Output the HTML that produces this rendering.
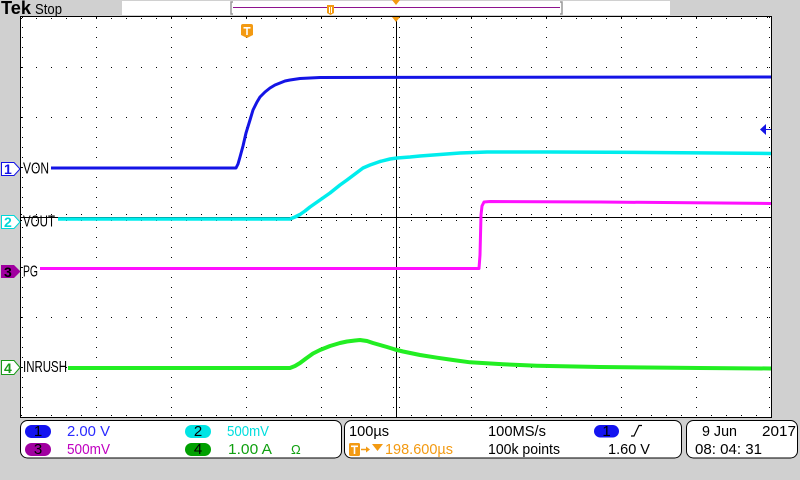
<!DOCTYPE html>
<html><head><meta charset="utf-8"><style>
html,body{margin:0;padding:0;background:#d0d0d0;}
svg{display:block;}
text{font-family:"Liberation Sans",sans-serif;}
</style></head><body>
<svg width="800" height="480" viewBox="0 0 800 480" xmlns="http://www.w3.org/2000/svg">
<rect width="800" height="480" fill="#d0d0d0"/>
<!-- top bar -->
<text x="1" y="14" font-family="Liberation Serif" font-weight="bold" font-size="18" textLength="30" lengthAdjust="spacingAndGlyphs" fill="#000">Tek</text>
<text x="35" y="14" font-size="15" textLength="27" lengthAdjust="spacingAndGlyphs" fill="#000">Stop</text>
<rect x="122" y="1" width="548" height="14" fill="#fff"/>
<path d="M233,2 L231,2 L231,14 L233,14" fill="none" stroke="#999" stroke-width="1.5"/>
<path d="M560,2 L562,2 L562,14 L560,14" fill="none" stroke="#999" stroke-width="1.5"/>
<rect x="233" y="7" width="327" height="1" fill="#8e128e"/>
<path d="M327,5 L334,5 L334,13 L330.5,15 L327,13 Z" fill="#f39a12"/>
<rect x="329" y="7" width="1" height="6" fill="#fff"/><rect x="331" y="7" width="1" height="6" fill="#fff"/>
<path d="M392,0 L400,0 L396,5 Z" fill="#f39a12"/>

<!-- plot area -->
<rect x="20" y="16" width="752" height="402" fill="#fff"/>
<g stroke="#000" stroke-width="1" fill="none">
<line x1="96.5" y1="17" x2="96.5" y2="417" stroke-dasharray="1 9"/>
<line x1="171.5" y1="17" x2="171.5" y2="417" stroke-dasharray="1 9"/>
<line x1="246.5" y1="17" x2="246.5" y2="417" stroke-dasharray="1 9"/>
<line x1="321.5" y1="17" x2="321.5" y2="417" stroke-dasharray="1 9"/>
<line x1="471.5" y1="17" x2="471.5" y2="417" stroke-dasharray="1 9"/>
<line x1="546.5" y1="17" x2="546.5" y2="417" stroke-dasharray="1 9"/>
<line x1="621.5" y1="17" x2="621.5" y2="417" stroke-dasharray="1 9"/>
<line x1="696.5" y1="17" x2="696.5" y2="417" stroke-dasharray="1 9"/>
<line x1="21" y1="67.5" x2="771" y2="67.5" stroke-dasharray="1 14"/>
<line x1="21" y1="117.5" x2="771" y2="117.5" stroke-dasharray="1 14"/>
<line x1="21" y1="167.5" x2="771" y2="167.5" stroke-dasharray="1 14"/>
<line x1="21" y1="267.5" x2="771" y2="267.5" stroke-dasharray="1 14"/>
<line x1="21" y1="317.5" x2="771" y2="317.5" stroke-dasharray="1 14"/>
<line x1="21" y1="367.5" x2="771" y2="367.5" stroke-dasharray="1 14"/>
<!-- border ticks -->
<line x1="21" y1="18.5" x2="771" y2="18.5" stroke-dasharray="1 14"/>
<line x1="21" y1="415.5" x2="771" y2="415.5" stroke-dasharray="1 14"/>
<line x1="22.5" y1="17" x2="22.5" y2="417" stroke-dasharray="1 9"/>
<line x1="769.5" y1="17" x2="769.5" y2="417" stroke-dasharray="1 9"/>
<line x1="767.5" y1="17" x2="767.5" y2="417" stroke-dasharray="1 49"/>
<!-- center lines -->
<line x1="396.5" y1="17" x2="396.5" y2="417"/>
<line x1="21" y1="217.5" x2="771" y2="217.5"/>
<line x1="21" y1="214.5" x2="771" y2="214.5" stroke-dasharray="1 14"/>
<line x1="21" y1="220.5" x2="771" y2="220.5" stroke-dasharray="1 14"/>
<line x1="393.5" y1="17" x2="393.5" y2="417" stroke-dasharray="1 9"/>
<line x1="399.5" y1="17" x2="399.5" y2="417" stroke-dasharray="1 9"/>
<rect x="20.5" y="16.5" width="751" height="401"/>
</g>
<!-- trigger position marker at graticule top -->
<path d="M392,17 L400,17 L396,22 Z" fill="#f39a12"/>
<!-- orange T marker in plot -->
<path d="M241,26 Q241,24 243,24 L251,24 Q253,24 253,26 L253,35 L247,38 L241,35 Z" fill="#f39a12"/>
<rect x="243.5" y="27" width="7" height="1.6" fill="#fff"/><rect x="246.2" y="27" width="1.6" height="8" fill="#fff"/>

<!-- traces -->
<g fill="none" stroke-linejoin="round" stroke-linecap="butt">
<polyline stroke="#1414e6" stroke-width="3" points="51,168 236,168 238,164 240,157 243,146 246,133 250,120 253,110 257,102 260,97 265,92 270,88 275,85 280,83 285,81 290,80 300,78.5 320,77.5 771,77"/>
<polyline stroke="#00eded" stroke-width="3.5" points="58,219 290,219 295,217 300,214.5 305,211 310,207 320,200 330,193 340,185 347,180 355,174 363,168 370,165 380,161.5 390,159 397,158 410,157 420,156 440,154.5 460,153 487,152 550,152 650,152.5 771,153.5"/>
<polyline stroke="#ff10ff" stroke-width="3" points="40,268.5 479,268.5 480,255 481,215 482,206 484,202 490,201.5 600,202 771,203.5"/>
<polyline stroke="#22ee22" stroke-width="4" points="68,368 290,368 295,366 300,363 306,358.5 313,353.5 320,350 330,346 340,343 347,341.5 355,340.5 360,340 367,341 373,343 380,345 387,347 395,349.5 403,351.5 420,355 437,357.7 453,360 470,362.3 503,364.3 537,365.7 600,367 700,368 771,368.5"/>
</g>
<!-- trigger level marker -->
<path d="M760,129.5 L766,124 L766,135 Z" fill="#1414e6"/>
<line x1="766" y1="129.5" x2="771" y2="129.5" stroke="#1414e6" stroke-width="1"/>

<!-- channel markers -->
<path d="M1.5,162.5 L14,162.5 L20,169 L14,175.5 L1.5,175.5 Z" fill="#fff" stroke="#1414e6" stroke-width="1"/>
<text x="4" y="174" font-size="14" font-weight="bold" fill="#1414e6">1</text>
<path d="M1.5,215.5 L14,215.5 L20,222 L14,228.5 L1.5,228.5 Z" fill="#fff" stroke="#00d8d8" stroke-width="1"/>
<text x="4" y="227" font-size="14" font-weight="bold" fill="#00d8d8">2</text>
<path d="M1,265 L14,265 L20.5,271.5 L14,278 L1,278 Z" fill="#a000a0"/>
<text x="4" y="277" font-size="14" font-weight="bold" fill="#000">3</text>
<path d="M1.5,360.5 L14,360.5 L20,367.5 L14,374.5 L1.5,374.5 Z" fill="#fff" stroke="#1a9a1a" stroke-width="1"/>
<text x="4" y="373" font-size="14" font-weight="bold" fill="#1a9a1a">4</text>

<g font-size="16" fill="#000">
<text x="23" y="173.5" textLength="26" lengthAdjust="spacingAndGlyphs">VON</text>
<text x="23" y="226.5" textLength="32" lengthAdjust="spacingAndGlyphs">VOUT</text>
<text x="23" y="276.5" textLength="15" lengthAdjust="spacingAndGlyphs">PG</text>
<text x="23" y="372" textLength="44" lengthAdjust="spacingAndGlyphs">INRUSH</text>
</g>

<!-- bottom panels -->
<g fill="#fff" stroke="#000" stroke-width="1">
<rect x="20.5" y="420.5" width="321" height="37.5" rx="7"/>
<rect x="344.5" y="420.5" width="337" height="37.5" rx="7"/>
<rect x="686.5" y="420.5" width="111" height="37.5" rx="7"/>
</g>
<rect x="25" y="425" width="26" height="13" rx="6.5" fill="#1414f0"/>
<rect x="185" y="425" width="26" height="13" rx="6.5" fill="#00e4e4"/>
<rect x="25" y="443" width="26" height="13" rx="6.5" fill="#a000a0"/>
<rect x="185" y="443" width="26" height="13" rx="6.5" fill="#00a000"/>
<rect x="594" y="425" width="25" height="12.5" rx="6.2" fill="#1414f0"/>
<g font-size="15" fill="#000" text-anchor="middle">
<text x="38" y="436">1</text>
<text x="198" y="436">2</text>
<text x="38" y="454">3</text>
<text x="198" y="454">4</text>
<text x="606.5" y="436">1</text>
</g>
<g font-size="15">
<text x="67" y="436" fill="#2a2aff" textLength="43" lengthAdjust="spacingAndGlyphs">2.00 V</text>
<text x="227" y="436" fill="#00dede" textLength="42" lengthAdjust="spacingAndGlyphs">500mV</text>
<text x="67" y="454" fill="#c000c0" textLength="43" lengthAdjust="spacingAndGlyphs">500mV</text>
<text x="228" y="454" fill="#10a010" textLength="44" lengthAdjust="spacingAndGlyphs">1.00 A</text>
<text x="291" y="454" fill="#10a010" font-size="13">Ω</text>
<text x="349" y="436" fill="#000" textLength="40" lengthAdjust="spacingAndGlyphs">100µs</text>
<text x="488" y="436" fill="#000" textLength="58" lengthAdjust="spacingAndGlyphs">100MS/s</text>
<text x="488" y="454" fill="#000" textLength="72" lengthAdjust="spacingAndGlyphs">100k points</text>
<text x="608" y="454" fill="#000" textLength="42" lengthAdjust="spacingAndGlyphs">1.60 V</text>
<text x="385" y="454" fill="#f39a12" textLength="68" lengthAdjust="spacingAndGlyphs">198.600µs</text>
<text x="702" y="436" fill="#000" textLength="35" lengthAdjust="spacingAndGlyphs">9 Jun</text>
<text x="762" y="436" fill="#000" textLength="34" lengthAdjust="spacingAndGlyphs">2017</text>
<text x="695" y="454" fill="#000" textLength="67" lengthAdjust="spacingAndGlyphs">08: 04: 31</text>
</g>
<polyline points="631,436 634,436 639,425.5 642,425.5" fill="none" stroke="#000" stroke-width="1.2"/>
<!-- orange T, arrow, triangle -->
<rect x="349" y="443" width="11" height="13" rx="1.5" fill="#f39a12"/>
<rect x="351" y="445.5" width="7" height="1.6" fill="#fff"/><rect x="353.7" y="445.5" width="1.6" height="8.5" fill="#fff"/>
<line x1="361" y1="449.5" x2="368" y2="449.5" stroke="#f39a12" stroke-width="1.5"/>
<path d="M366,446.5 L370,449.5 L366,452.5 Z" fill="#f39a12"/>
<path d="M372,444 L383,444 L377.5,451 Z" fill="#f39a12"/>
</svg>
</body></html>
